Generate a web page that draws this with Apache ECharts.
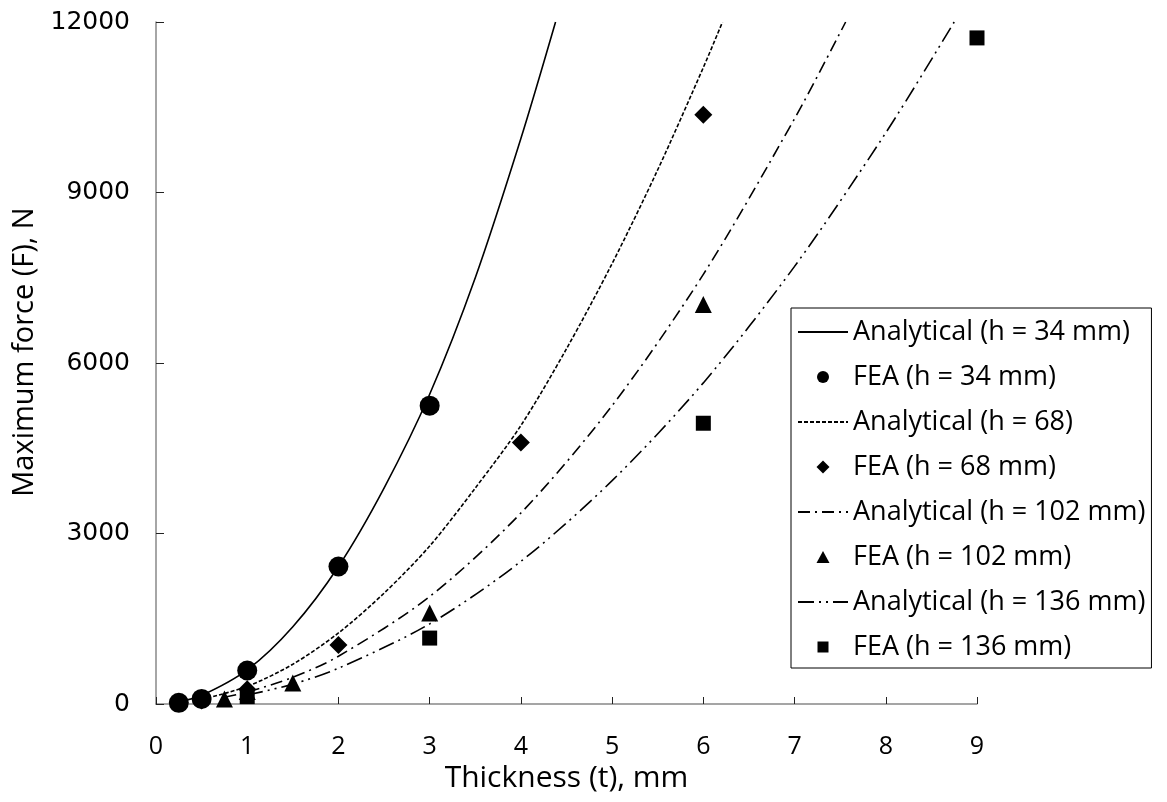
<!DOCTYPE html>
<html>
<head>
<meta charset="utf-8">
<script src="https://cdn.jsdelivr.net/npm/echarts@6/dist/echarts.min.js"></script>
<style>
    html, body { margin: 0; padding: 0; background: #fff; }
    #chart { width: 1167px; height: 802px; }
</style>
</head>
<body>
<div id="chart"></div>
<script>
// 解析曲线
var tA34 = [0.25, 0.5, 1, 1.5, 2, 2.5, 3, 3.5, 4, 4.38];
var fA34 = [40, 150, 600, 1360, 2420, 3800, 5450, 7500, 9950, 12000];
var tA68 = [0.5, 1, 1.5, 2, 2.5, 3, 3.5, 4, 4.5, 5, 5.5, 6, 6.21];
var fA68 = [80, 310, 700, 1250, 1950, 2780, 3800, 4900, 6250, 7750, 9400, 11200, 12000];
var tA102 = [0.75, 1, 1.5, 2, 3, 4, 5, 6, 7, 7.56];
var fA102 = [120, 210, 470, 840, 1890, 3360, 5250, 7560, 10300, 12000];
var tA136 = [1, 1.5, 2, 3, 4, 5, 6, 7, 8, 8.75];
var fA136 = [157, 350, 630, 1410, 2510, 3930, 5650, 7700, 10050, 12000];
// FEA 点
var tF34 = [0.25, 0.5, 1, 2, 3];
var fF34 = [20, 90, 590, 2420, 5250];
var tF68 = [0.5, 1, 2, 4, 6];
var fF68 = [60, 260, 1040, 4600, 10370];
var tF102 = [0.75, 1, 1.5, 3, 6];
var fF102 = [90, 220, 370, 1600, 7030];
var tF136 = [1, 3, 6, 9];
var fF136 = [130, 1160, 4940, 11720];
var xTicks = [0, 1, 2, 3, 4, 5, 6, 7, 8, 9];
var yTicks = [0, 3000, 6000, 9000, 12000];

function pairs(xs, ys) {
    var out = [];
    for (var i = 0; i < xs.length; i++) {
        out.push([xs[i], ys[i]]);
    }
    return out;
}

function lineSeries(name, xs, ys, dash) {
    return {
        name: name,
        type: "line",
        data: pairs(xs, ys),
        smooth: 0.3,
        symbol: "circle",
        showSymbol: false,
        lineStyle: { color: "#000", width: 1.6, type: dash },
        itemStyle: { color: "#000" },
        z: 2
    };
}

function scatterSeries(name, xs, ys, symbol, size) {
    return {
        name: name,
        type: "scatter",
        data: pairs(xs, ys),
        symbol: symbol,
        symbolSize: size,
        itemStyle: { color: "#000", opacity: 1 },
        z: 3
    };
}

// 图例图标: 50x13 框内的符号 (M0,0 M50,13 撑开包围盒, 避免拉伸)
var boxPath = "path://M0,0M50,13";
var legendIcons = {
    circle: boxPath + "M19,6.5A6,6 0 1,1 31,6.5A6,6 0 1,1 19,6.5Z",
    diamond: boxPath + "M25,0L31.5,6.5L25,13L18.5,6.5Z",
    triangle: boxPath + "M25,0.5L31.5,12.5L18.5,12.5Z",
    rect: boxPath + "M19.5,1L30.5,1L30.5,12L19.5,12Z"
};
var hidden = { color: "rgba(0,0,0,0)", borderWidth: 0 };

var chart = echarts.init(document.getElementById("chart"));
var fontMain = "'Open Sans', Lato, sans-serif";

chart.setOption({
    backgroundColor: "#fff",
    animation: false,
    grid: { left: 156, right: 190, top: 22, bottom: 98 },
    legend: {
        orient: "vertical",
        left: 791,
        top: 308,
        padding: [9, 6, 6, 6],
        itemWidth: 50,
        itemHeight: 13,
        itemGap: 15,
        borderColor: "#000",
        borderWidth: 1,
        textStyle: { fontFamily: fontMain, fontSize: 27, color: "#000", lineHeight: 30 },
        data: [
            { name: "Analytical (h = 34 mm)", itemStyle: hidden },
            { name: "FEA (h = 34 mm)", icon: legendIcons.circle },
            { name: "Analytical (h = 68)", itemStyle: hidden },
            { name: "FEA (h = 68 mm)", icon: legendIcons.diamond },
            { name: "Analytical (h = 102 mm)", itemStyle: hidden },
            { name: "FEA (h = 102 mm)", icon: legendIcons.triangle },
            { name: "Analytical (h = 136 mm)", itemStyle: hidden },
            { name: "FEA (h = 136 mm)", icon: legendIcons.rect }
        ]
    },
    xAxis: {
        type: "value",
        min: xTicks[0],
        max: xTicks[xTicks.length - 1],
        interval: 1,
        name: "Thickness (t), mm",
        nameLocation: "middle",
        nameGap: 47,
        nameTextStyle: { fontFamily: fontMain, fontSize: 30, color: "#000" },
        splitLine: { show: false },
        axisLine: { lineStyle: { color: "#888", width: 1.5 } },
        axisTick: { inside: true, length: 7, lineStyle: { color: "#222" } },
        axisLabel: { fontFamily: fontMain, fontSize: 25, color: "#000", margin: 30 }
    },
    yAxis: {
        type: "value",
        min: yTicks[0],
        max: yTicks[yTicks.length - 1],
        interval: 3000,
        name: "Maximum force (F), N",
        nameLocation: "middle",
        nameGap: 108,
        nameTextStyle: { fontFamily: fontMain, fontSize: 29, color: "#000", padding: [0, 0, 0, 22] },
        splitLine: { show: false },
        axisLine: { show: true, lineStyle: { color: "#888", width: 1.5 } },
        axisTick: { show: true, inside: true, length: 8, lineStyle: { color: "#222" } },
        axisLabel: {
            fontFamily: "'DejaVu Sans', sans-serif",
            fontSize: 25,
            color: "#000",
            margin: 26,
            formatter: function (v) { return String(v); }
        }
    },
    series: [
        lineSeries("Analytical (h = 34 mm)", tA34, fA34, "solid"),
        scatterSeries("FEA (h = 34 mm)", tF34, fF34, "circle", 20),
        lineSeries("Analytical (h = 68)", tA68, fA68, [4, 2]),
        scatterSeries("FEA (h = 68 mm)", tF68, fF68, "diamond", 18),
        lineSeries("Analytical (h = 102 mm)", tA102, fA102, [12, 5, 2, 5]),
        scatterSeries("FEA (h = 102 mm)", tF102, fF102, "triangle", 17),
        lineSeries("Analytical (h = 136 mm)", tA136, fA136, [16, 5, 2, 5, 2, 5]),
        scatterSeries("FEA (h = 136 mm)", tF136, fF136, "rect", 15)
    ]
});
</script>
</body>
</html>
